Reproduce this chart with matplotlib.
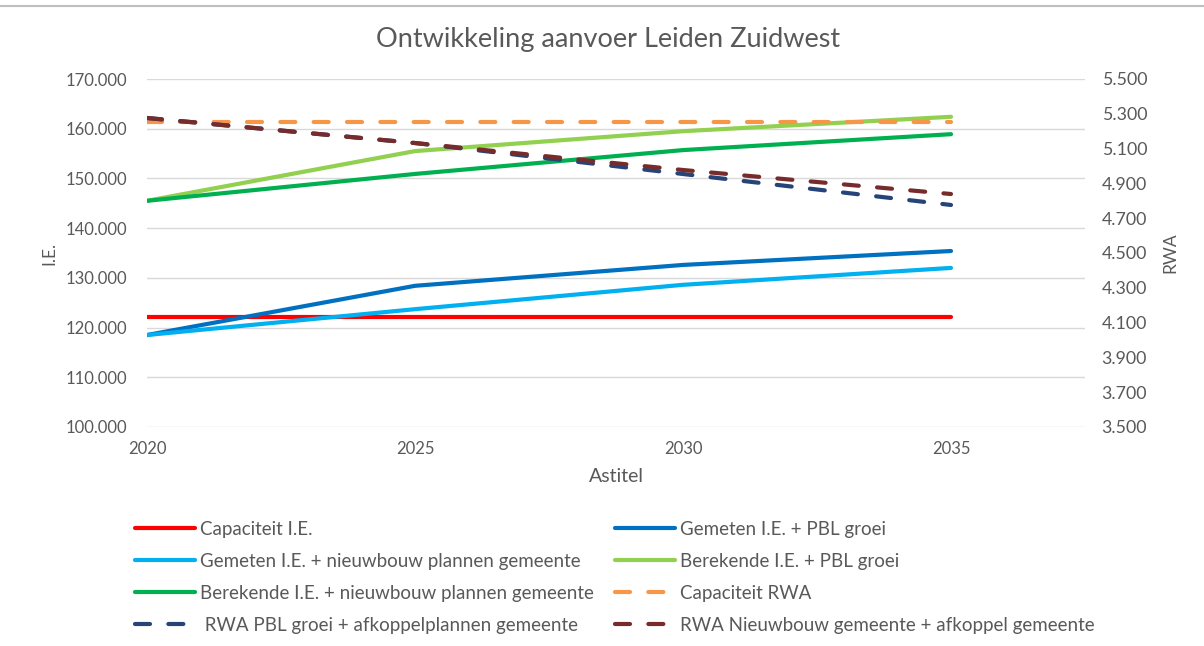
import matplotlib
matplotlib.use("Agg")
import matplotlib.pyplot as plt
from matplotlib.lines import Line2D
from matplotlib.ticker import FuncFormatter

plt.rcParams['font.family'] = ['Lato', 'DejaVu Sans']

years = [2020, 2025, 2030, 2035]

# Left axis (I.E.)
cap_ie = [122.1, 122.1, 122.1, 122.1]
gem_pbl = [118.5, 128.4, 132.6, 135.4]
gem_nieuw = [118.5, 123.7, 128.6, 132.0]
ber_pbl = [145.5, 155.5, 159.5, 162.4]
ber_nieuw = [145.5, 150.9, 155.7, 158.9]

# Right axis (RWA)
cap_rwa = [5250, 5250, 5250, 5250]
rwa_pbl = [5276, 5132, 4954, 4776]
rwa_nieuw = [5276, 5132, 4977, 4839]

labels = [
    "Capaciteit I.E.",
    "Gemeten I.E. + PBL groei",
    "Gemeten I.E. + nieuwbouw plannen gemeente",
    "Berekende I.E. + PBL groei",
    "Berekende I.E. + nieuwbouw plannen gemeente",
    "Capaciteit RWA",
    " RWA PBL groei + afkoppelplannen gemeente",
    "RWA Nieuwbouw gemeente + afkoppel gemeente",
]
colors = ["#FF0000", "#0070C0", "#00B0F0", "#92D050", "#00B050",
          "#F79646", "#264478", "#772B2B"]

text_c = "#595959"
W, H = 1204, 646
fig = plt.figure(figsize=(W / 100, H / 100), dpi=100)
ax = fig.add_axes([147 / W, 1 - 427 / H, (1085 - 147) / W, (427 - 79) / H])
ax2 = ax.twinx()

lw = 3.0
kw = dict(lw=lw, solid_capstyle='round', dash_capstyle='round')
dash = (3.6, 4.4)
ax.plot(years, cap_ie, color=colors[0], **kw)
ax.plot(years, gem_pbl, color=colors[1], **kw)
ax.plot(years, gem_nieuw, color=colors[2], **kw)
ax.plot(years, ber_pbl, color=colors[3], **kw)
ax.plot(years, ber_nieuw, color=colors[4], **kw)
ax2.plot(years, cap_rwa, color=colors[5], dashes=dash, **kw)
ax2.plot(years, rwa_pbl, color=colors[6], dashes=dash, **kw)
ax2.plot(years, rwa_nieuw, color=colors[7], dashes=dash, **kw)

ax.set_xlim(2020, 2037.5)
ax.set_ylim(100, 170)
ax2.set_ylim(3500, 5500)
ax.set_xticks(years)
ax.set_yticks(range(100, 171, 10))
ax2.set_yticks(range(3500, 5501, 200))
ax.yaxis.set_major_formatter(FuncFormatter(lambda v, p: f"{v:.3f}"))
ax2.yaxis.set_major_formatter(FuncFormatter(lambda v, p: f"{v/1000:.3f}"))
ax.grid(axis='y', color="#D9D9D9", lw=1)
ax.set_axisbelow(True)
for a in (ax, ax2):
    for s in a.spines.values():
        s.set_visible(False)
    a.tick_params(length=0, labelsize=12, colors=text_c)
ax2.tick_params(axis='y', labelsize=12.8)
ax.tick_params(axis='y', pad=14)
ax2.tick_params(axis='y', pad=12)
ax.tick_params(axis='x', pad=10)

ax.set_ylabel("I.E.", fontsize=12.5, color=text_c, labelpad=6)
ax2.set_ylabel("RWA", fontsize=12.5, color=text_c, rotation=90, labelpad=11)
ax.set_xlabel("Astitel", fontsize=14, color=text_c, labelpad=8)
fig.text(608 / W, 1 - 40 / H, "Ontwikkeling aanvoer Leiden Zuidwest",
         ha='center', va='center', fontsize=19.5, color=text_c)

def handle(i):
    l = Line2D([], [], color=colors[i], lw=lw, solid_capstyle='round',
               dash_capstyle='round')
    if i >= 5:
        l.set_dashes(dash)
    return l

fs = 13.5
col1 = [0, 2, 4, 6]
col2 = [1, 3, 5, 7]
for col, x in ((col1, 127.5), (col2, 607.5)):
    fig.legend([handle(i) for i in col], [labels[i] for i in col],
               loc='upper left', bbox_to_anchor=(x / W, 1 - 513 / H),
               frameon=False, fontsize=fs, labelcolor=text_c,
               handlelength=3.2, handletextpad=0.27, labelspacing=0.8,
               borderaxespad=0)

fig.add_artist(Line2D([0, 1], [1 - 6 / H, 1 - 6 / H], color="#BFBFBF", lw=1.5,
                      transform=fig.transFigure))

fig.savefig("out.png", dpi=100)
